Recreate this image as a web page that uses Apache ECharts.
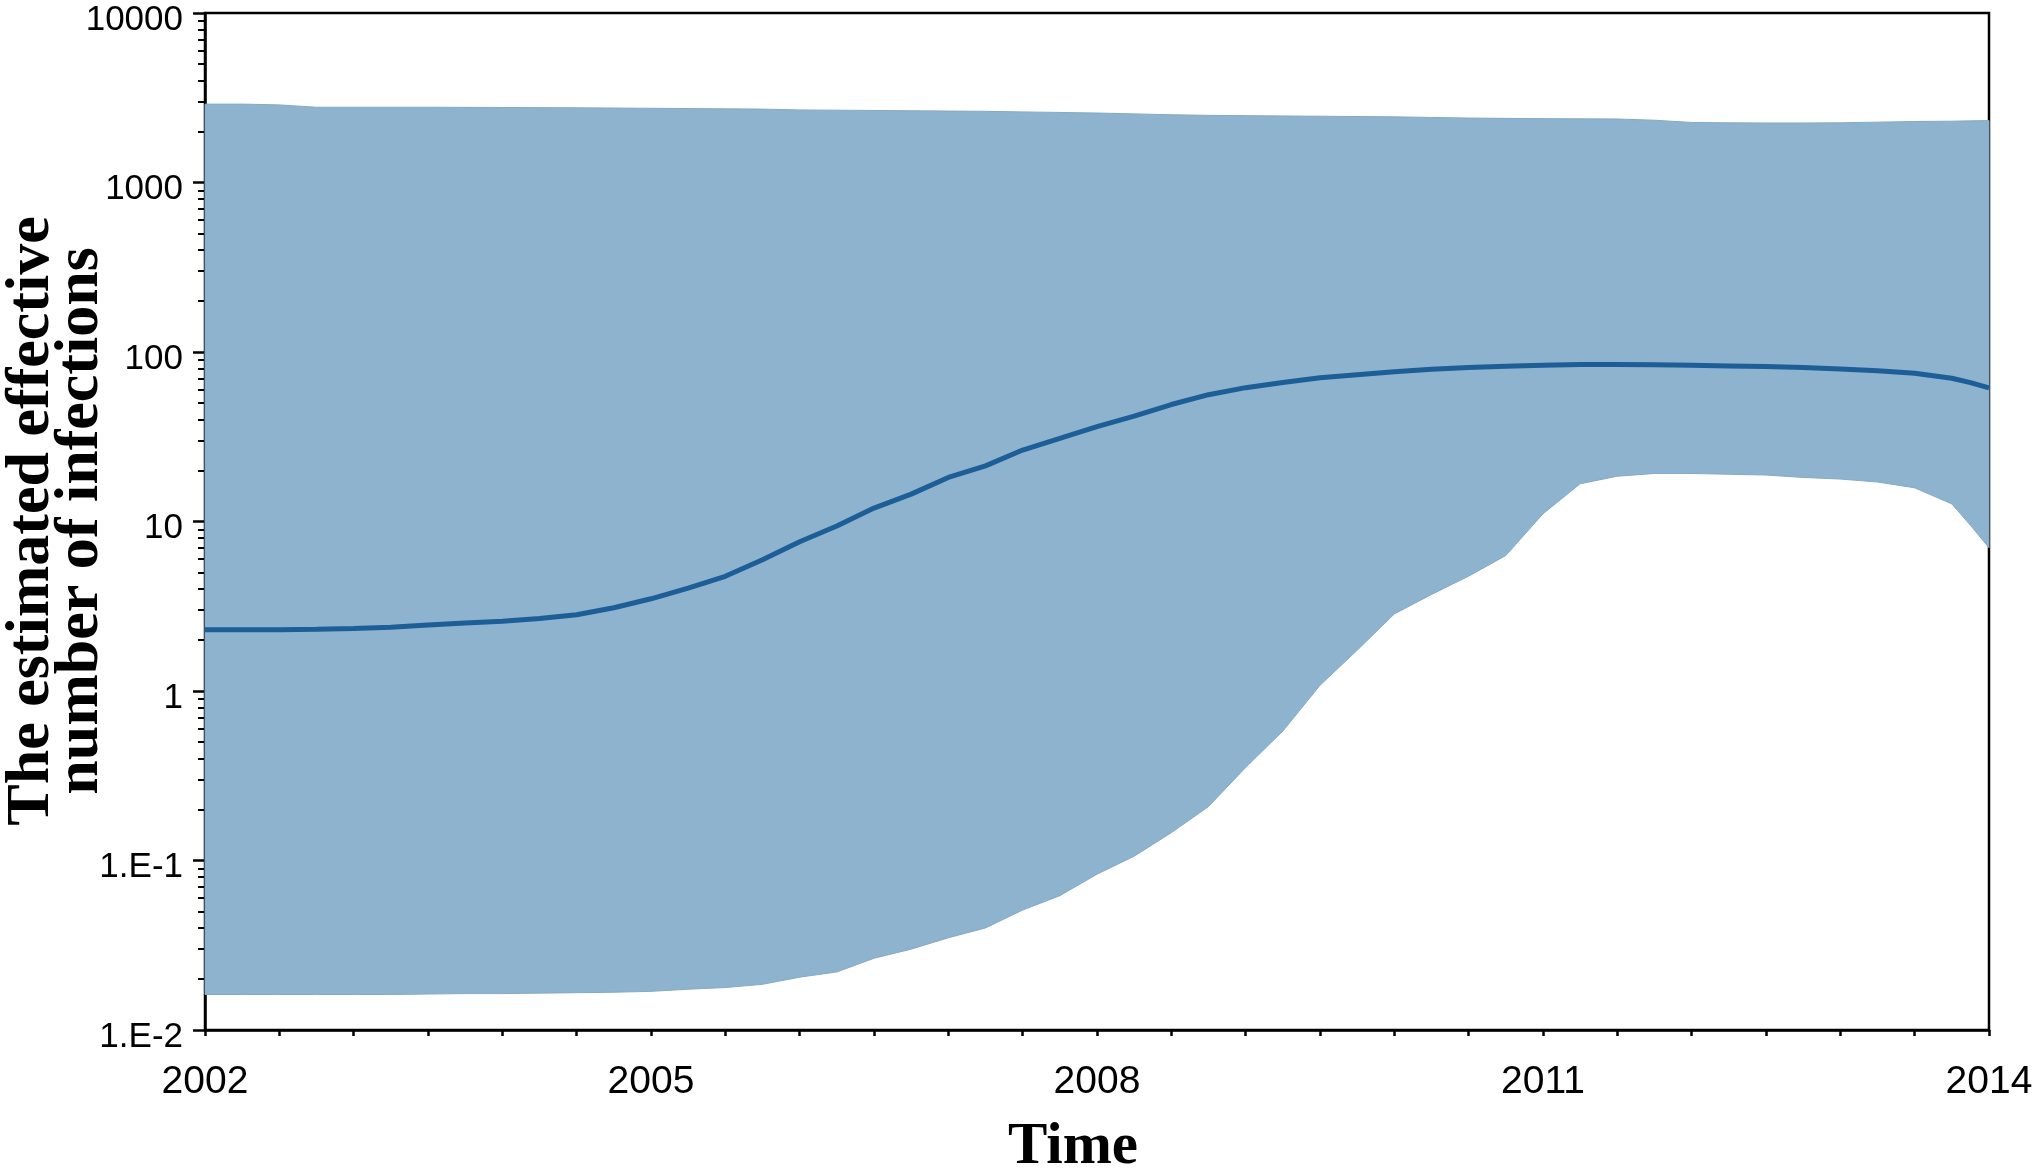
<!DOCTYPE html>
<html>
<head>
<meta charset="utf-8">
<script src="https://cdn.jsdelivr.net/npm/echarts@6/dist/echarts.min.js"></script>
<style>
html,body{margin:0;padding:0;background:#fff;}
#chart{width:2036px;height:1171px;}
</style>
</head>
<body>
<div id="chart"></div>
<script>
// ---- data ----
const years = [2002, 2002.25, 2002.5, 2002.75, 2003, 2003.25, 2003.5, 2003.75,
  2004, 2004.25, 2004.5, 2004.75, 2005, 2005.25, 2005.5, 2005.75,
  2006, 2006.25, 2006.5, 2006.75, 2007, 2007.25, 2007.5, 2007.75,
  2008, 2008.25, 2008.5, 2008.75, 2009, 2009.25, 2009.5, 2009.75,
  2010, 2010.25, 2010.5, 2010.75, 2011, 2011.25, 2011.5, 2011.75,
  2012, 2012.25, 2012.5, 2012.75, 2013, 2013.25, 2013.5, 2013.75, 2013.875, 2014];

const medianValues = [2.30, 2.30, 2.30, 2.31, 2.34, 2.38, 2.45, 2.52,
  2.58, 2.68, 2.82, 3.10, 3.50, 4.05, 4.75, 5.95,
  7.6, 9.4, 12.0, 14.5, 18.2, 21.3, 26.4, 30.9,
  36.3, 41.8, 49.0, 56.0, 61.6, 66.1, 70.5, 73.5,
  76.5, 79.0, 81.0, 82.5, 83.5, 84.3, 84.5, 84.0,
  83.5, 82.8, 82.0, 81.0, 79.5, 77.4, 75.0, 70.0, 66.0, 61.5];

const upperValues = [2900, 2900, 2870, 2780, 2780, 2780, 2780, 2775,
  2770, 2765, 2760, 2750, 2740, 2730, 2720, 2710,
  2680, 2670, 2660, 2650, 2640, 2630, 2610, 2590,
  2570, 2540, 2510, 2490, 2480, 2470, 2460, 2450,
  2440, 2420, 2400, 2390, 2380, 2375, 2370, 2330,
  2260, 2250, 2245, 2245, 2250, 2270, 2290, 2300, 2310, 2320];

const lowerValues = [0.0162, 0.0162, 0.0162, 0.0162, 0.0162, 0.0162, 0.0163, 0.0164,
  0.0164, 0.0165, 0.0166, 0.0167, 0.0169, 0.0174, 0.0178, 0.0186,
  0.0205, 0.022, 0.0265, 0.030, 0.035, 0.040, 0.051, 0.062,
  0.083, 0.106, 0.146, 0.208, 0.354, 0.58, 1.08, 1.74,
  2.85, 3.71, 4.76, 6.3, 11.1, 16.7, 18.5, 19.2,
  19.2, 19.0, 18.8, 18.2, 17.8, 17.1, 15.8, 12.7, 9.5, 7.0];

const yTickValues = [0.01, 0.1, 1, 10, 100, 1000, 10000];
const yTickLabels = ['1.E-2', '1.E-1', '1', '10', '100', '1000', '10000'];
const xLabelYears = [2002, 2005, 2008, 2011, 2014];

// ---- derived structures for the library ----
const minorY = [];
for (let d = -2; d <= 3; d++) {
  for (let k = 2; k <= 9; k++) minorY.push(+(k * Math.pow(10, d)).toPrecision(3));
}
const bandData = years.map((y, i) => [y, lowerValues[i], upperValues[i]]);
const medianData = years.map((y, i) => [y, medianValues[i]]);

const chart = echarts.init(document.getElementById('chart'), null, {renderer: 'canvas'});
const tickFont = 'Liberation Sans';
chart.setOption({
  animation: false,
  backgroundColor: '#fff',
  grid: {left: 205, right: 47, top: 13, bottom: 141, show: true,
    containLabel: false, outerBoundsMode: 'none',
    borderColor: '#000', borderWidth: 2.5, backgroundColor: 'transparent'},
  xAxis: {
    type: 'value', min: 2002, max: 2014, interval: 0.5,
    name: 'Time', nameLocation: 'middle', nameGap: 88,
    nameTextStyle: {fontFamily: 'Liberation Serif', fontWeight: 'bold', fontSize: 59,
      color: '#000', padding: [0, 48, 0, 0]},
    axisLine: {show: true, lineStyle: {color: '#000', width: 2.5}},
    axisTick: {show: true, length: 6, lineStyle: {color: '#000', width: 2.5}},
    splitLine: {show: false},
    axisLabel: {
      color: '#000', fontFamily: tickFont, fontSize: 39, margin: 33,
      showMinLabel: true, showMaxLabel: true,
      formatter: v => xLabelYears.some(y => Math.abs(y - v) < 1e-6) ? String(Math.round(v)) : ''
    }
  },
  yAxis: [{
    type: 'log', logBase: 10, min: 0.01, max: 10000,
    axisLine: {show: true, lineStyle: {color: '#000', width: 2.5}},
    axisTick: {show: true, length: 12, customValues: yTickValues, lineStyle: {color: '#000', width: 2.5}},
    splitLine: {show: false},
    axisLabel: {
      color: '#000', fontFamily: tickFont, fontSize: 35, margin: 22,
      verticalAlign: 'top', lineHeight: 14,
      customValues: yTickValues,
      formatter: v => yTickLabels[Math.round(Math.log10(v)) + 2]
    }
  }, {
    type: 'log', logBase: 10, min: 0.01, max: 10000, position: 'left',
    axisLine: {show: false},
    axisTick: {show: true, length: 7, customValues: minorY, lineStyle: {color: '#000', width: 2}},
    axisLabel: {show: false},
    splitLine: {show: false}
  }],
  series: [{
    type: 'custom', name: 'band', data: bandData, silent: true, z: 2,
    encode: {x: 0, y: [1, 2]},
    renderItem: function (params, api) {
      if (params.dataIndex !== 0) return null;
      const top = bandData.map(d => api.coord([d[0], d[2]]));
      const bot = bandData.map(d => api.coord([d[0], d[1]])).reverse();
      return {type: 'polygon', shape: {points: top.concat(bot)},
        style: {fill: '#8DB3CF', stroke: '#86A9C4', lineWidth: 1}};
    }
  }, {
    type: 'line', name: 'median', data: medianData,
    symbol: 'none', lineStyle: {color: '#1D5E97', width: 5}, z: 5, silent: true
  }],
  graphic: [{
    type: 'text', x: 56, y: 521, rotation: Math.PI / 2,
    style: {text: 'The estimated effective\nnumber of infections', fontFamily: 'Liberation Serif',
      fontWeight: 'bold', fontSize: 62, lineHeight: 49,
      fill: '#000', align: 'center', verticalAlign: 'middle'}
  }]
});
</script>
</body>
</html>
